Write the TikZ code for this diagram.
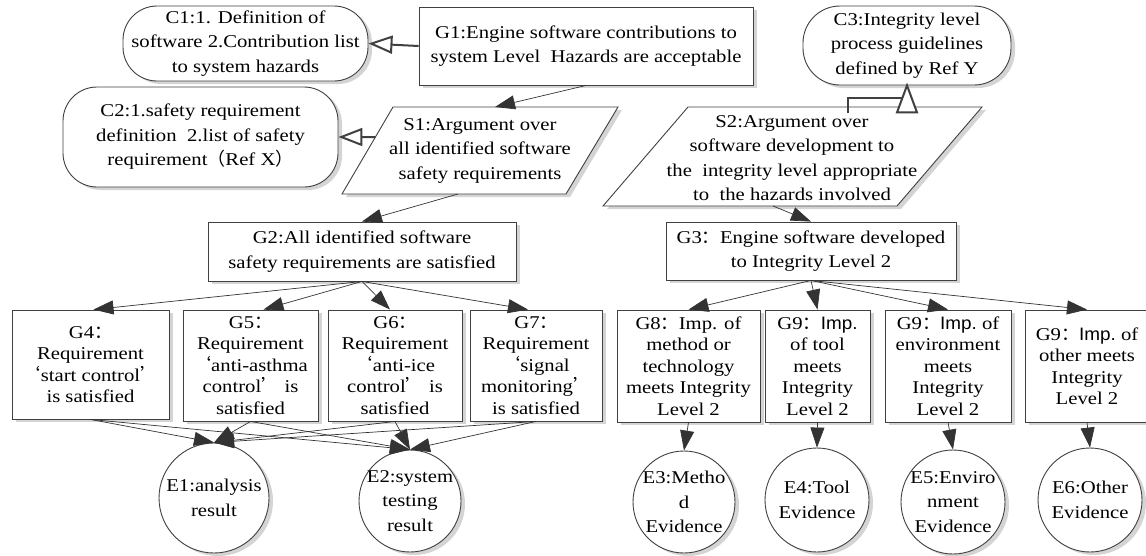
\documentclass[tikz,border=0pt]{standalone}
\usepackage{fontspec}
\setmainfont{Liberation Serif}[FakeStretch=1.15]
\newfontfamily\cjkfont{Noto Sans CJK SC}
\newfontfamily\arialfont{Liberation Sans}[FakeStretch=1.05]
\usetikzlibrary{arrows.meta,calc,shadows}
% full-width punctuation and the sans "Imp." used in the G9 goals
\newcommand{\fcolon}{{\cjkfont ：}}
\newcommand{\qopen}{{\cjkfont ‘}}
\newcommand{\qclose}{{\cjkfont ’}}
\newcommand{\impsans}{{\arialfont Imp.}}
\begin{document}
\begin{tikzpicture}[x=1pt,y=-1pt,
  every node/.style={inner sep=0pt, align=center, font=\fontsize{18}{24.5}\selectfont},
  shadowed/.style={drop shadow={shadow xshift=4pt, shadow yshift=-3pt, fill=black!17, opacity=1}},
  outline/.style={draw=black!75, line width=0.9pt, fill=white},
  goal/.style={outline, shadowed, rectangle},
  tightgoal/.style={goal, font=\fontsize{18}{21.5}\selectfont},
  context/.style={outline, shadowed, rectangle, rounded corners=#1},
  evidence/.style={outline, shadowed, circle, inner sep=-20pt},
  solves/.style={draw=black!80, line width=0.7pt, -{Triangle[length=20pt,width=14pt]}},
  incontext/.style={draw=black!75, line width=2pt, -{Triangle[open,length=24pt,width=18pt]}},
  ctxline/.style={draw=black!75, line width=2pt},
]
\useasboundingbox (0,0) rectangle (1146,555);

% ---- top level: goal, contexts, strategies ----
\node[context=34pt, minimum width=245pt, minimum height=75pt] (C1) at (245.5,43.5)
  {C1:1. Definition of\\software 2.Contribution list\\to system hazards};
\node[goal, minimum width=334pt, minimum height=78pt] (G1) at (586,46)
  {G1:Engine software contributions to\\system Level\ \ Hazards are acceptable};
\node[context=37pt, minimum width=208pt, minimum height=79pt] (C3) at (907,45.5)
  {C3:Integrity level\\process guidelines\\defined by Ref Y};
\node[context=34pt, minimum width=275pt, minimum height=100pt] (C2) at (200.5,137)
  {C2:1.safety requirement\\definition\ \ 2.list of safety\\requirement{\cjkfont （}Ref X{\cjkfont ）}};

% strategy S1 (parallelogram)
\coordinate (s1a) at (342,194);
\coordinate (s1b) at (566,194);
\coordinate (s1c) at (618,107);
\coordinate (s1d) at (393,107);
\fill[black!17] ($(s1a)+(4,3)$) -- ($(s1b)+(4,3)$) -- ($(s1c)+(4,3)$) -- ($(s1d)+(4,3)$) -- cycle;
\draw[outline] (s1a) -- (s1b) -- (s1c) -- (s1d) -- cycle;
\node (S1) at (480,150.5) {S1:Argument over\\all identified software\\safety requirements};
\coordinate (s1top) at (495,107);
\coordinate (s1bot) at (458,194);
\coordinate (s1left) at ($(s1a)!0.655!(s1d)$);

% strategy S2 (parallelogram)
\coordinate (s2a) at (603,206);
\coordinate (s2b) at (897,206);
\coordinate (s2c) at (982,107);
\coordinate (s2d) at (688,107);
\fill[black!17] ($(s2a)+(4,3)$) -- ($(s2b)+(4,3)$) -- ($(s2c)+(4,3)$) -- ($(s2d)+(4,3)$) -- cycle;
\draw[outline] (s2a) -- (s2b) -- (s2c) -- (s2d) -- cycle;
\node (S2) at (792,158) {S2:Argument over\\software development to\\the\ \ integrity level appropriate\\to\ \ the hazards involved};
\coordinate (s2top) at (848,113);
\coordinate (s2bot) at (773,206);

% ---- sub-goals ----
\node[goal, minimum width=308pt, minimum height=59pt] (G2) at (362,251.5)
  {G2:All identified software\\safety requirements are satisfied};
\node[goal, minimum width=290pt, minimum height=58pt] (G3) at (811,251)
  {G3\fcolon Engine software developed\\to Integrity Level 2};

\node[tightgoal, minimum width=157pt, minimum height=109pt] (G4) at (90.5,364.5)
  {G4\fcolon\\Requirement\\\qopen start control\qclose\\is satisfied};
\node[tightgoal, minimum width=135pt, minimum height=111pt] (G5) at (250.5,365.5)
  {G5\fcolon\\Requirement\\\qopen anti-asthma\\control\qclose\ is\\satisfied};
\node[tightgoal, minimum width=134pt, minimum height=111pt] (G6) at (395,365.5)
  {G6\fcolon\\Requirement\\\qopen anti-ice\\control\qclose\ is\\satisfied};
\node[tightgoal, minimum width=132pt, minimum height=111pt] (G7) at (536,365.5)
  {G7\fcolon\\Requirement\\\qopen signal\\monitoring\qclose\\is satisfied};

\node[tightgoal, minimum width=143pt, minimum height=112pt] (G8) at (688.5,366)
  {G8\fcolon Imp. of\\method or\\technology\\meets Integrity\\Level 2};
\node[tightgoal, minimum width=105pt, minimum height=112pt] (G9a) at (817.5,366)
  {G9\fcolon\impsans\\of tool\\meets\\Integrity\\Level 2};
\node[tightgoal, minimum width=126pt, minimum height=112pt] (G9b) at (948,366)
  {G9\fcolon\impsans\ of\\environment\\meets\\Integrity\\Level 2};
\node[tightgoal, minimum width=124pt, minimum height=112pt] (G9c) at (1087,366)
  {G9\fcolon\impsans\ of\\other meets\\Integrity\\Level 2};

% ---- evidence ----
\node[evidence, minimum size=110pt] (E1) at (214,498) {E1:analysis\\result};
\node[evidence, minimum size=102pt] (E2) at (410,501) {E2:system\\testing\\result};
\node[evidence, minimum size=102pt] (E3) at (684,502) {E3:Metho\\d\\Evidence};
\node[evidence, minimum size=104pt] (E4) at (817,500) {E4:Tool\\Evidence};
\node[evidence, minimum size=104pt] (E5) at (953,502) {E5:Enviro\\nment\\Evidence};
\node[evidence, minimum size=104pt] (E6) at (1090,500) {E6:Other\\Evidence};

% ---- in-context-of links ----
\draw[incontext] (G1.west) -- (C1.east);
\draw[incontext] (s1left) -- (C2.east);
\draw[ctxline] (s2top) |- ($(C3.south)+(0,13)$);
\draw[ctxline, fill=white, line join=miter] (C3.south) -- ++(-10,27) -- ++(20,0) -- cycle;

% ---- solved-by links ----
\draw[solves] (G1.south) -- (s1top);
\draw[solves] (s1bot) -- (G2.north);
\draw[solves] (s2bot) -- (G3.north);

\draw[solves] (G2.south) -- ([xshift=3pt]G4.north);
\draw[solves] (G2.south) -- ([xshift=13pt]G5.north);
\draw[solves] (G2.south) -- ([xshift=-5pt]G6.north);
\draw[solves] (G2.south) -- ([xshift=-8pt]G7.north);

\draw[solves] (G3.south) -- (G8.north);
\draw[solves] (G3.south) -- (G9a.north);
\draw[solves] (G3.south) -- (G9b.north);
\draw[solves] (G3.south) -- (G9c.north);

\foreach \g in {G4,G5,G6,G7}{
  \draw[solves] (\g.south) -- (E1.north);
  \draw[solves] (\g.south) -- (E2.north);
}
\draw[solves] (G8.south) -- (E3.north);
\draw[solves] (G9a.south) -- (E4.north);
\draw[solves] (G9b.south) -- (E5.north);
\draw[solves] (G9c.south) -- (E6.north);
\end{tikzpicture}
\end{document}
